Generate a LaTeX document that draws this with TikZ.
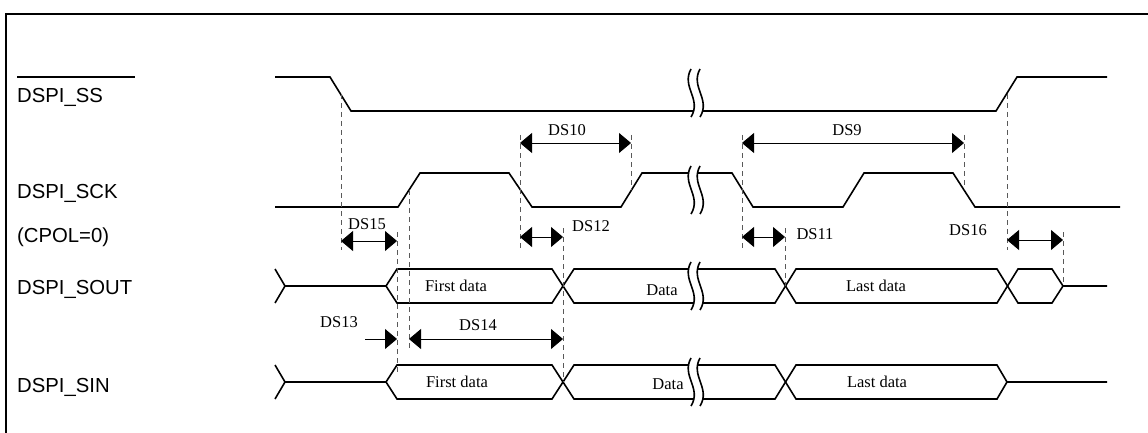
\documentclass[tikz,border=0pt]{standalone}
\usepackage{fontspec}
\setmainfont{Liberation Serif}
\newfontfamily\signalfont{Liberation Sans}
\usetikzlibrary{arrows.meta}
\newlength{\du}
\setlength{\du}{1pt}
\tikzset{
  wave/.style={line width=1.6\du, line join=miter},
  guide/.style={line width=0.9\du, draw=black!65, dash pattern=on 5\du off 4\du},
  dimboth/.style={line width=0.9\du, {Triangle[length=12pt,width=20pt]}-{Triangle[length=12pt,width=20pt]}},
  dimend/.style={line width=0.9\du, -{Triangle[length=12pt,width=20pt]}},
  siglabel/.style={anchor=base west, inner sep=0pt, font=\signalfont\fontsize{20.3}{24}\selectfont},
  timelabel/.style={inner sep=0pt, font=\fontsize{16.5}{20}\selectfont},
}
\begin{document}
\begin{tikzpicture}
\pgftransformxscale{1.000000}
\pgftransformyscale{-1.000000}
\useasboundingbox (0\du,0\du) rectangle (1148\du,433\du);
\draw[line width=1.3\du] (6\du,433\du)--(6\du,14\du)--(1148\du,14\du);
% signal names
\node[siglabel] (ssname) at (17\du,103\du){DSPI\_SS};
\draw[line width=1.3\du] (17\du,77\du)--(135\du,77\du);
\node[siglabel] (sckname) at (17\du,198\du){DSPI\_SCK};
\node[siglabel] (cpolname) at (17\du,242\du){(CPOL=0)};
\node[siglabel] (soutname) at (17\du,294\du){DSPI\_SOUT};
\node[siglabel] (sinname) at (17\du,392\du){DSPI\_SIN};
% DSPI_SS
\draw[wave] (275\du,77\du)--(330\du,77\du)--(351\du,111\du)--(996\du,111\du)--(1017\du,77\du)--(1107\du,77\du);
% DSPI_SCK
\draw[wave] (275\du,207\du)--(398\du,207\du)--(420\du,173\du)--(509\du,173\du)--(532\du,207\du)--(621\du,207\du)--(642\du,173\du)--(732\du,173\du)--(753\du,207\du)--(843\du,207\du)--(864\du,173\du)--(953\du,173\du)--(975\du,207\du)--(1120\du,207\du);
% DSPI_SOUT
\draw[wave] (275\du,269\du)--(285\du,286\du)--(275\du,303\du);
\draw[wave] (285\du,286\du)--(386\du,286\du);
\draw[wave] (386\du,286\du)--(397\du,269\du)--(552\du,269\du)--(574\du,303\du)--(775\du,303\du)--(796\du,269\du)--(997\du,269\du)--(1018\du,303\du)--(1052\du,303\du)--(1063\du,286\du)--(1107\du,286\du);
\draw[wave] (386\du,286\du)--(397\du,303\du)--(552\du,303\du)--(574\du,269\du)--(775\du,269\du)--(796\du,303\du)--(997\du,303\du)--(1018\du,269\du)--(1052\du,269\du)--(1063\du,286\du);
% DSPI_SIN
\draw[wave] (275\du,365\du)--(285\du,382\du)--(275\du,399\du);
\draw[wave] (285\du,382\du)--(386\du,382\du);
\draw[wave] (386\du,382\du)--(397\du,365\du)--(552\du,365\du)--(574\du,399\du)--(775\du,399\du)--(796\du,365\du)--(997\du,365\du)--(1007\du,382\du)--(1107\du,382\du);
\draw[wave] (386\du,382\du)--(397\du,399\du)--(552\du,399\du)--(574\du,365\du)--(775\du,365\du)--(796\du,399\du)--(997\du,399\du)--(1007\du,382\du);
% breaks
\fill[white] (691\du,69\du) .. controls (681\du,87\du) and (702\du,99\du) .. (691\du,117\du)--(700\du,117\du) .. controls (711\du,99\du) and (690\du,87\du) .. (700\du,69\du)--cycle;
\draw[wave] (691\du,69\du) .. controls (681\du,87\du) and (702\du,99\du) .. (691\du,117\du);
\draw[wave] (700\du,69\du) .. controls (690\du,87\du) and (711\du,99\du) .. (700\du,117\du);
\fill[white] (691\du,166\du) .. controls (681\du,184\du) and (702\du,196\du) .. (691\du,214\du)--(700\du,214\du) .. controls (711\du,196\du) and (690\du,184\du) .. (700\du,166\du)--cycle;
\draw[wave] (691\du,166\du) .. controls (681\du,184\du) and (702\du,196\du) .. (691\du,214\du);
\draw[wave] (700\du,166\du) .. controls (690\du,184\du) and (711\du,196\du) .. (700\du,214\du);
\fill[white] (691\du,262\du) .. controls (681\du,280\du) and (702\du,292\du) .. (691\du,310\du)--(700\du,310\du) .. controls (711\du,292\du) and (690\du,280\du) .. (700\du,262\du)--cycle;
\draw[wave] (691\du,262\du) .. controls (681\du,280\du) and (702\du,292\du) .. (691\du,310\du);
\draw[wave] (700\du,262\du) .. controls (690\du,280\du) and (711\du,292\du) .. (700\du,310\du);
\fill[white] (691\du,358\du) .. controls (681\du,376\du) and (702\du,388\du) .. (691\du,406\du)--(700\du,406\du) .. controls (711\du,388\du) and (690\du,376\du) .. (700\du,358\du)--cycle;
\draw[wave] (691\du,358\du) .. controls (681\du,376\du) and (702\du,388\du) .. (691\du,406\du);
\draw[wave] (700\du,358\du) .. controls (690\du,376\du) and (711\du,388\du) .. (700\du,406\du);
% bus texts
\node[timelabel] (soutfirst) at (456\du,286\du){First data};
\node[timelabel] (soutdata) at (662\du,290\du){Data};
\node[timelabel] (soutlast) at (876\du,286\du){Last data};
\node[timelabel] (sinfirst) at (457\du,382\du){First data};
\node[timelabel] (sindata) at (668\du,384\du){Data};
\node[timelabel] (sinlast) at (877\du,382\du){Last data};
% guides
\draw[guide] (341\du,94\du)--(341\du,250\du);
\draw[guide] (397\du,232\du)--(397\du,375\du);
\draw[guide] (409\du,190\du)--(409\du,350\du);
\draw[guide] (520\du,135\du)--(520\du,248\du);
\draw[guide] (631\du,135\du)--(631\du,190\du);
\draw[guide] (563\du,228\du)--(563\du,382\du);
\draw[guide] (742\du,135\du)--(742\du,250\du);
\draw[guide] (785\du,228\du)--(785\du,286\du);
\draw[guide] (964\du,135\du)--(964\du,190\du);
\draw[guide] (1007\du,94\du)--(1007\du,250\du);
\draw[guide] (1063\du,232\du)--(1063\du,286\du);
% timing parameters
\coordinate (ds10l) at (520\du,143\du);
\coordinate (ds10r) at (631\du,143\du);
\draw[dimboth] (ds10l)--(ds10r);
\node[timelabel] (ds10) at (567\du,130\du){DS10};
\coordinate (ds9l) at (742\du,143\du);
\coordinate (ds9r) at (964\du,143\du);
\draw[dimboth] (ds9l)--(ds9r);
\node[timelabel] (ds9) at (847\du,130\du){DS9};
\coordinate (ds15l) at (341\du,241\du);
\coordinate (ds15r) at (397\du,241\du);
\draw[dimboth] (ds15l)--(ds15r);
\node[timelabel] (ds15) at (367\du,224\du){DS15};
\coordinate (ds12l) at (520\du,237\du);
\coordinate (ds12r) at (563\du,237\du);
\draw[dimboth] (ds12l)--(ds12r);
\node[timelabel] (ds12) at (591\du,226\du){DS12};
\coordinate (ds11l) at (742\du,237\du);
\coordinate (ds11r) at (785\du,237\du);
\draw[dimboth] (ds11l)--(ds11r);
\node[timelabel] (ds11) at (815\du,234\du){DS11};
\coordinate (ds16l) at (1007\du,240\du);
\coordinate (ds16r) at (1063\du,240\du);
\draw[dimboth] (ds16l)--(ds16r);
\node[timelabel] (ds16) at (968\du,230\du){DS16};
\coordinate (ds13l) at (365\du,339\du);
\coordinate (ds13r) at (397\du,339\du);
\draw[dimend] (ds13l)--(ds13r);
\node[timelabel] (ds13) at (339\du,322\du){DS13};
\coordinate (ds14l) at (409\du,339\du);
\coordinate (ds14r) at (563\du,339\du);
\draw[dimboth] (ds14l)--(ds14r);
\node[timelabel] (ds14) at (478\du,325\du){DS14};
\end{tikzpicture}
\end{document}
